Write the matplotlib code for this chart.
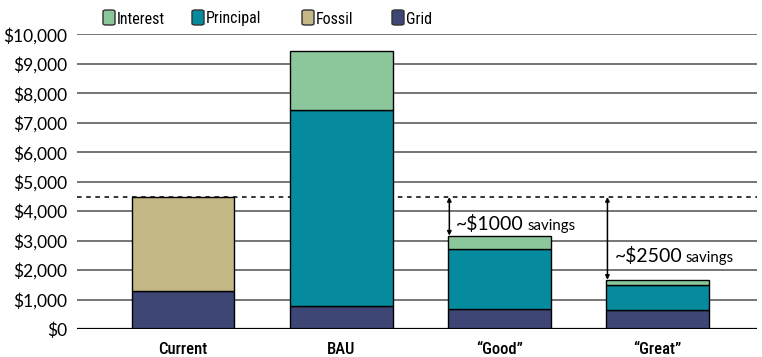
import matplotlib
matplotlib.use("Agg")
import matplotlib.pyplot as plt
from matplotlib.patches import FancyBboxPatch
import logging
logging.getLogger("matplotlib.font_manager").setLevel(logging.ERROR)

categories = ["Current", "BAU", "\u201cGood\u201d", "\u201cGreat\u201d"]
grid = [1290, 790, 680, 650]
fossil = [3190, 0, 0, 0]
principal = [0, 6630, 2040, 850]
interest = [0, 2030, 450, 170]
yticks = [0, 1000, 2000, 3000, 4000, 5000, 6000, 7000, 8000, 9000, 10000]
ytick_labels = ["$0", "$1,000", "$2,000", "$3,000", "$4,000", "$5,000",
                "$6,000", "$7,000", "$8,000", "$9,000", "$10,000"]
current_level = 4480
savings_labels = [("~$1000", "savings"), ("~$2500", "savings")]

legend_names = ["Interest", "Principal", "Fossil", "Grid"]
colors = {"Interest": "#8CC79C", "Principal": "#058B9D",
          "Fossil": "#C4B887", "Grid": "#3E4676"}

FONT = ["Lato", "DejaVu Sans"]
NARROW = ["Roboto Condensed", "Liberation Sans Narrow", "Lato", "DejaVu Sans"]

fig = plt.figure(figsize=(7.62, 3.57), dpi=100)
ax = fig.add_axes([77/762, 28/357, (757-77)/762, (329.3-34.7)/357])

x = list(range(len(categories)))
w = 0.65
ax.bar(x, grid, w, color=colors["Grid"], edgecolor="black", lw=1, zorder=3)
bottoms = grid[:]
fx = [xi for xi, v in zip(x, fossil) if v > 0]
ax.bar(fx, [v for v in fossil if v > 0], w,
       bottom=[b for b, v in zip(bottoms, fossil) if v > 0],
       color=colors["Fossil"], edgecolor="black", lw=1, zorder=3)
bottoms = [a + b for a, b in zip(bottoms, fossil)]
px_ = [xi for xi, v in zip(x, principal) if v > 0]
ax.bar(px_, [v for v in principal if v > 0], w,
       bottom=[b for b, v in zip(bottoms, principal) if v > 0],
       color=colors["Principal"], edgecolor="black", lw=1, zorder=3)
bottoms = [a + b for a, b in zip(bottoms, principal)]
ix = [xi for xi, v in zip(x, interest) if v > 0]
ax.bar(ix, [v for v in interest if v > 0], w,
       bottom=[b for b, v in zip(bottoms, interest) if v > 0],
       color=colors["Interest"], edgecolor="black", lw=1, zorder=3)
totals = [a + b for a, b in zip(bottoms, interest)]

ax.set_xlim(-0.671, 3.63)
ax.set_ylim(0, 10000)
for s in ax.spines.values():
    s.set_visible(False)
for t in yticks:
    if t == 0:
        ax.axhline(t, color="black", lw=1.6, zorder=4)
    else:
        ax.axhline(t, color="#505050", lw=1.1, zorder=1)
ax.axhline(current_level, color="black", lw=1.1, ls=(0, (3, 3)), zorder=2)

ax.set_yticks(yticks)
ax.set_yticklabels(ytick_labels, fontsize=12.5, family=FONT)
ax.set_xticks(x)
ax.set_xticklabels(categories, fontsize=12, family=NARROW, fontweight="medium")
ax.tick_params(axis="y", length=0, pad=7)
ax.tick_params(axis="x", length=0, pad=9.5)

renderer = fig.canvas.get_renderer()
# savings arrows
for idx, (big, small), frac in zip([2, 3], savings_labels, [0.153, 0.22]):
    xa = idx - w/2 + 0.009
    ax.annotate("", xy=(xa, totals[idx]), xytext=(xa, current_level),
                arrowprops=dict(arrowstyle="<|-|>", color="black", lw=1.1,
                                mutation_scale=6, shrinkA=0, shrinkB=0), zorder=5)
    ybase = totals[idx] + (current_level - totals[idx]) * frac
    t = ax.text(xa + 0.044, ybase, big, fontsize=14, family=FONT,
                va="baseline", ha="left", zorder=5)
    bb = t.get_window_extent(renderer)
    x1 = ax.transData.inverted().transform((bb.x1 + 3, bb.y0))[0]
    ax.text(x1, ybase, small, fontsize=10.8, family=FONT,
            va="baseline", ha="left", zorder=5)

# legend
lx = [103, 192, 302, 392]
for name, px in zip(legend_names, lx):
    p = FancyBboxPatch((px/762, (357-25)/357), 12/762, 15/357,
                       boxstyle="round,pad=0,rounding_size=0.004",
                       transform=fig.transFigure, facecolor=colors[name],
                       edgecolor="#333333", lw=1)
    fig.add_artist(p)
    fig.text((px+14)/762, (357-19)/357, name, fontsize=11.5,
             family=NARROW, va="center", ha="left")

fig.savefig("out.png", dpi=100)
